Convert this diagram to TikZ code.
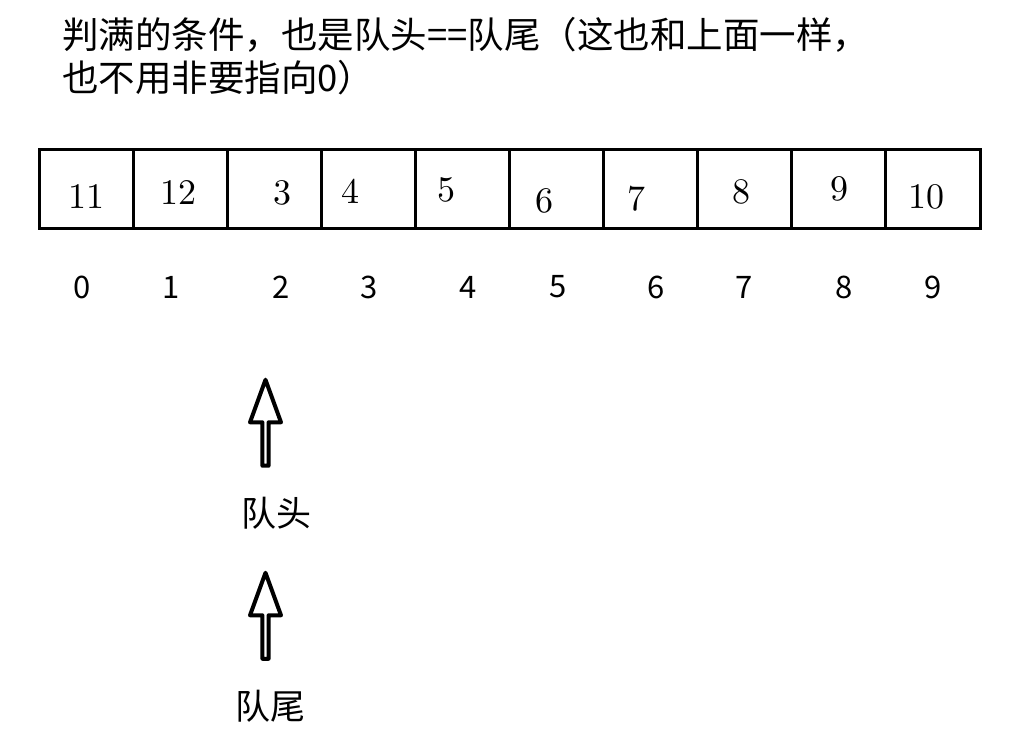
\documentclass[tikz,border=0pt]{standalone}
\usepackage{fontspec}
\newfontfamily\cjk{Noto Sans CJK SC}
\newfontfamily\numfont{lmroman10-regular}[Extension=.otf]
\usetikzlibrary{shapes.arrows}

\begin{document}
\begin{tikzpicture}[x=1pt, y=-1pt,
  cell/.style={draw, line width=3pt, minimum width=94.1pt, minimum height=79pt, inner sep=0pt},
  val/.style={font=\numfont\fontsize{36}{36}\selectfont},
  idx/.style={font=\cjk\fontsize{31}{31}\selectfont},
  ptr/.style={draw, line width=4pt, line join=round, single arrow, shape border rotate=90, minimum height=86pt, minimum width=31pt, single arrow head extend=8pt, single arrow tip angle=40, inner sep=0pt},
  lbl/.style={font=\cjk\fontsize{35}{35}\selectfont},
  ttl/.style={font=\cjk\fontsize{36.5}{36.5}\selectfont, anchor=base west, inner sep=0pt}]
  \useasboundingbox (0,0) rectangle (1033,739);

  % title
  \node[ttl] (t1) at (62,48) {判满的条件，也是队头==队尾（这也和上面一样，};
  \node[ttl] (t2) at (62,91) {也不用非要指向0）};

  % array cells and indices
  \foreach \i in {0,...,9}
    \node[cell] (c\i) at ({39+94.1*(\i+0.5)},188.5) {};
  \foreach \v/\x/\y [count=\n from 0] in {11/86/197, 12/178/193, 3/282/193, 4/350/191, 5/446/190, 6/544/201, 7/636/199, 8/741/192, 9/839/189, 10/926/197}
    \node[val] (v\n) at (\x,\y) {\v};
  \foreach \x [count=\n from 0] in {82,171,281,369,468,558,656,744,844,933}
    \node[idx] (i\n) at (\x,287) {\n};

  % front and rear pointers
  \node[ptr] (front) at (265.5,427) {};
  \node[lbl] (frontlabel) at (276,513) {队头};
  \node[ptr] (rear) at (265.5,620) {};
  \node[lbl] (rearlabel) at (270,706) {队尾};
\end{tikzpicture}
\end{document}
